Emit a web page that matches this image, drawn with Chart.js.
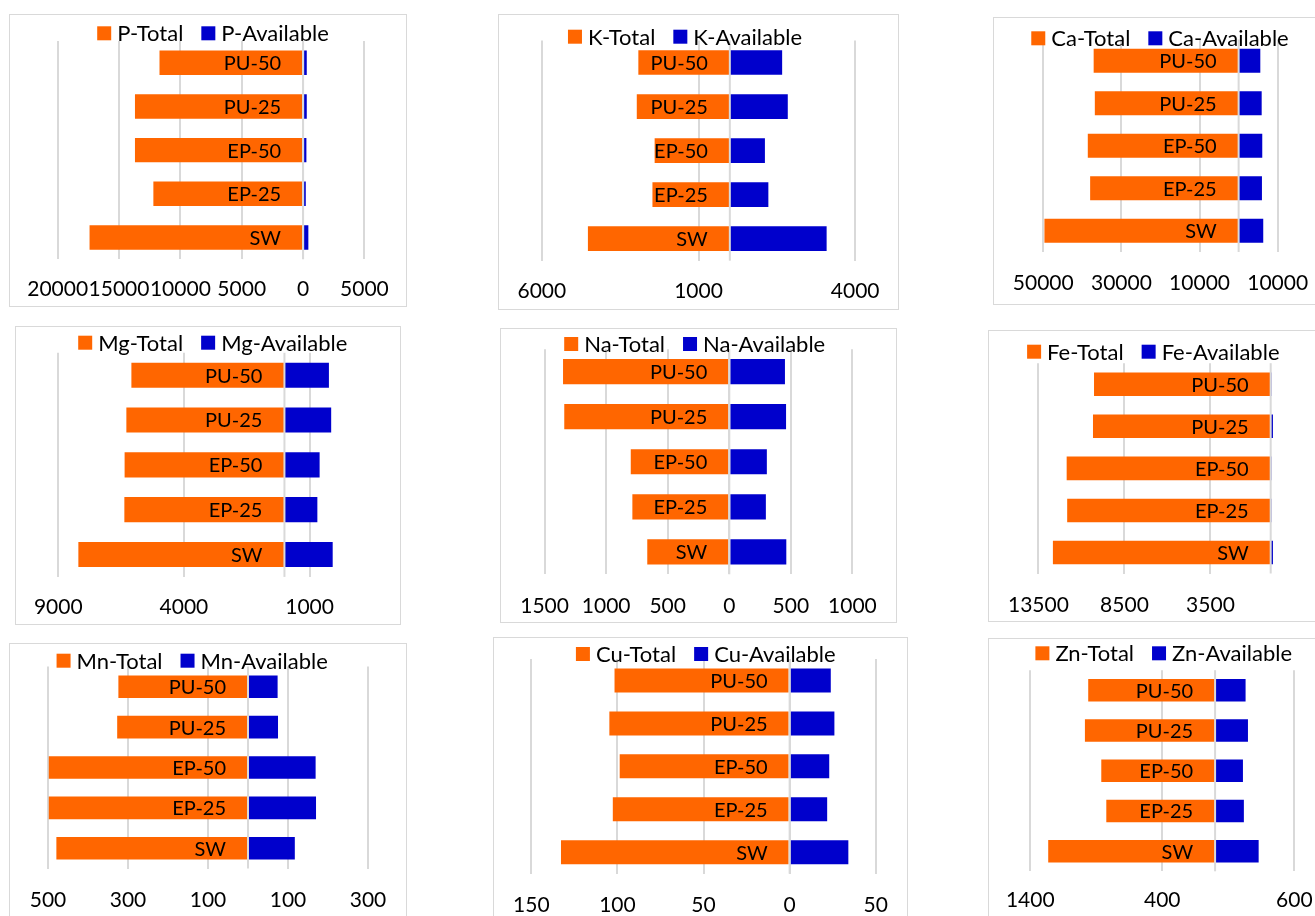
<!DOCTYPE html>
<html>
<head>
<meta charset="utf-8">
<script src="https://cdn.jsdelivr.net/npm/chart.js@4.4.1/dist/chart.umd.min.js"></script>
<style>
  html, body { margin: 0; padding: 0; background: #fff; width: 1315px; height: 916px; overflow: hidden; }
  .panel { position: absolute; border: 1px solid #d9d9d9; box-sizing: border-box; background: #fff; overflow: hidden; }
  .panel canvas { display: block; }
</style>
</head>
<body>
<script>
// Treatments, listed top to bottom
const CATEGORIES = ['PU-50', 'PU-25', 'EP-50', 'EP-25', 'SW'];

// Total and available content of each element per treatment
const P_TOTAL  = [11700, 13700, 13700, 12200, 17400];
const P_AVAIL  = [300, 300, 270, 220, 430];
const K_TOTAL  = [2920, 2970, 2400, 2470, 4530];
const K_AVAIL  = [1670, 1850, 1120, 1230, 3090];
const CA_TOTAL = [37100, 36800, 38600, 38000, 49700];
const CA_AVAIL = [5550, 5900, 6050, 5970, 6300];
const MG_TOTAL = [6090, 6290, 6360, 6370, 8200];
const MG_AVAIL = [1770, 1860, 1400, 1310, 1920];
const NA_TOTAL = [1350, 1340, 800, 787, 666];
const NA_AVAIL = [452, 461, 305, 297, 463];
const FE_TOTAL = [10270, 10330, 11860, 11830, 12660];
const FE_AVAIL = [40, 130, 40, 40, 130];
const MN_TOTAL = [324, 327, 498, 498, 479];
const MN_AVAIL = [74, 75, 169, 170, 117];
const CU_TOTAL = [101.7, 104.7, 98.7, 102.7, 132.8];
const CU_AVAIL = [23.9, 26.0, 23.0, 21.8, 34.1];
const ZN_TOTAL = [961, 986, 862, 824, 1264];
const ZN_AVAIL = [231, 249, 211, 218, 330];

// Value-axis ticks (totals run to the left, shown as magnitudes)
const P_TICKS  = [-20000, -15000, -10000, -5000, 0, 5000];
const K_TICKS  = [-6000, -1000, 4000];
const CA_TICKS = [-50000, -30000, -10000, 10000];
const MG_TICKS = [-9000, -4000, 1000];
const NA_TICKS = [-1500, -1000, -500, 0, 500, 1000];
const FE_TICKS = [-13500, -8500, -3500];
const MN_TICKS = [-500, -300, -100, 100, 300];
const CU_TICKS = [-150, -100, -50, 0, 50];
const ZN_TICKS = [-1400, -400, 600];

const ORANGE = '#FF6600';
const BLUE = '#0000CC';
const GRID = '#d9d9d9';
const FONT_FAMILY = 'Lato, "Open Sans", sans-serif';
const NAME_SIZE = 20;
const TICK_SIZE = 21;
const LEGEND_SIZE = 22;
const LINE_H = 25;

// Panel layout: outer frame, plot area, tick-label row and legend centre (page pixels)
const PANELS = [
  { el: 'P',  total: P_TOTAL,  avail: P_AVAIL,  ticks: P_TICKS,  min: -20000, max: 5000,
    box: [9, 14, 398, 293],   area: [56, 41, 365.7, 259.3],     tickY: 289,   legend: [213, 33.3] },
  { el: 'K',  total: K_TOTAL,  avail: K_AVAIL,  ticks: K_TICKS,  min: -6000, max: 4000,
    box: [498, 14, 401, 296], area: [538, 40.5, 858, 260.7],    tickY: 291.7, legend: [685, 36.7] },
  { el: 'Ca', total: CA_TOTAL, avail: CA_AVAIL, ticks: CA_TICKS, min: -50000, max: 10000,
    box: [993, 17, 345, 288], area: [1039, 39.5, 1277.7, 252],  tickY: 283.3, legend: [1160, 38.3] },
  { el: 'Mg', total: MG_TOTAL, avail: MG_AVAIL, ticks: MG_TICKS, min: -9000, max: 2000,
    box: [15, 326, 386, 299], area: [55.7, 352.8, 334.7, 576.9], tickY: 607.3, legend: [212.8, 342.7] },
  { el: 'Na', total: NA_TOTAL, avail: NA_AVAIL, ticks: NA_TICKS, min: -1500, max: 1000,
    box: [500, 328, 397, 295], area: [540.7, 349.2, 856.7, 574.3], tickY: 606, legend: [694.7, 344] },
  { el: 'Fe', total: FE_TOTAL, avail: FE_AVAIL, ticks: FE_TICKS, min: -13500, max: 1000,
    box: [988, 330, 350, 292], area: [1034.3, 363.2, 1287.9, 573.5], tickY: 605, legend: [1153.3, 351.7] },
  { el: 'Mn', total: MN_TOTAL, avail: MN_AVAIL, ticks: MN_TICKS, min: -500, max: 300,
    box: [9, 643, 398, 300],  area: [43.3, 666.5, 372.3, 868.5], tickY: 900.7, legend: [192.2, 660.7] },
  { el: 'Cu', total: CU_TOTAL, avail: CU_AVAIL, ticks: CU_TICKS, min: -150, max: 50,
    box: [493, 637, 415, 300], area: [526.7, 659, 880.7, 873.7], tickY: 905.3, legend: [705.8, 654] },
  { el: 'Zn', total: ZN_TOTAL, avail: ZN_AVAIL, ticks: ZN_TICKS, min: -1400, max: 600,
    box: [988, 638, 350, 300], area: [1029, 670.2, 1294.3, 871.3], tickY: 900.7, legend: [1163.7, 653.3] }
];

// Zero axis line drawn over the bars, with treatment names just left of it
const axisAndNames = {
  id: 'axisAndNames',
  afterDatasetsDraw(chart) {
    const { ctx, chartArea, scales: { x, y } } = chart;
    const x0 = x.getPixelForValue(0);
    ctx.save();
    ctx.strokeStyle = GRID;
    ctx.lineWidth = 2;
    ctx.beginPath();
    ctx.moveTo(x0, chartArea.top);
    ctx.lineTo(x0, chartArea.bottom);
    ctx.stroke();
    ctx.fillStyle = '#000';
    ctx.font = NAME_SIZE + 'px ' + FONT_FAMILY;
    ctx.textAlign = 'right';
    ctx.textBaseline = 'middle';
    chart.data.labels.forEach((name, i) => {
      ctx.fillText(name, x0 - 22, y.getPixelForValue(i) + 1);
    });
    ctx.restore();
  }
};

// Compact legend row: square swatch followed by the series name
const swatchLegend = {
  id: 'swatchLegend',
  afterDraw(chart, args, opts) {
    const { ctx } = chart;
    const box = 14, gapText = 6, gapItem = 18;
    ctx.save();
    ctx.font = LEGEND_SIZE + 'px ' + FONT_FAMILY;
    const items = chart.data.datasets.map(d => ({ text: d.label, color: d.backgroundColor, w: ctx.measureText(d.label).width }));
    const total = items.reduce((s, it) => s + box + gapText + it.w, 0) + gapItem * (items.length - 1);
    let cx = opts.cx - total / 2;
    const cy = opts.cy;
    ctx.textBaseline = 'middle';
    ctx.textAlign = 'left';
    items.forEach(it => {
      ctx.fillStyle = it.color;
      ctx.fillRect(cx, cy - box / 2, box, box);
      ctx.fillStyle = '#000';
      ctx.fillText(it.text, cx + box + gapText, cy + 1);
      cx += box + gapText + it.w + gapItem;
    });
    ctx.restore();
  }
};

PANELS.forEach(p => {
  const [bx, by, bw, bh] = p.box;
  const div = document.createElement('div');
  div.className = 'panel';
  Object.assign(div.style, { left: bx + 'px', top: by + 'px', width: bw + 'px', height: bh + 'px' });
  const cw = bw - 2, ch = bh - 2;
  const ox = bx + 1, oy = by + 1;
  const canvas = document.createElement('canvas');
  canvas.width = cw; canvas.height = ch;
  canvas.style.width = cw + 'px'; canvas.style.height = ch + 'px';
  div.appendChild(canvas);
  document.body.appendChild(div);

  const [L, T, R, B] = p.area;
  const tickPad = p.tickY - B - LINE_H / 2;
  const axisH = tickPad + LINE_H;
  const padding = {
    left: L - ox,
    right: ox + cw - R,
    top: T - oy,
    bottom: oy + ch - B - axisH
  };

  new Chart(canvas, {
    type: 'bar',
    data: {
      labels: CATEGORIES,
      datasets: [
        { label: p.el + '-Total', data: p.total.map(v => -v), backgroundColor: ORANGE,
          categoryPercentage: 1, barPercentage: 0.56 },
        { label: p.el + '-Available', data: p.avail, backgroundColor: BLUE,
          categoryPercentage: 1, barPercentage: 0.56 }
      ]
    },
    options: {
      indexAxis: 'y',
      responsive: false,
      animation: false,
      devicePixelRatio: 1,
      layout: { padding },
      plugins: {
        legend: { display: false },
        tooltip: { enabled: false },
        swatchLegend: { cx: p.legend[0] - ox, cy: p.legend[1] - oy }
      },
      scales: {
        x: {
          type: 'linear',
          stacked: true,
          min: p.min,
          max: p.max,
          bounds: 'data',
          afterBuildTicks: s => { s.ticks = p.ticks.map(v => ({ value: v })); },
          afterFit: s => { s.height = axisH; },
          grid: { color: GRID, lineWidth: 2, drawTicks: false },
          border: { display: false },
          ticks: {
            autoSkip: false, maxRotation: 0, minRotation: 0,
            padding: tickPad, color: '#000',
            font: { family: FONT_FAMILY, size: TICK_SIZE, lineHeight: LINE_H / TICK_SIZE },
            callback: v => String(Math.abs(v))
          }
        },
        y: { stacked: true, display: false }
      }
    },
    plugins: [axisAndNames, swatchLegend]
  });
});
</script>
</body>
</html>
